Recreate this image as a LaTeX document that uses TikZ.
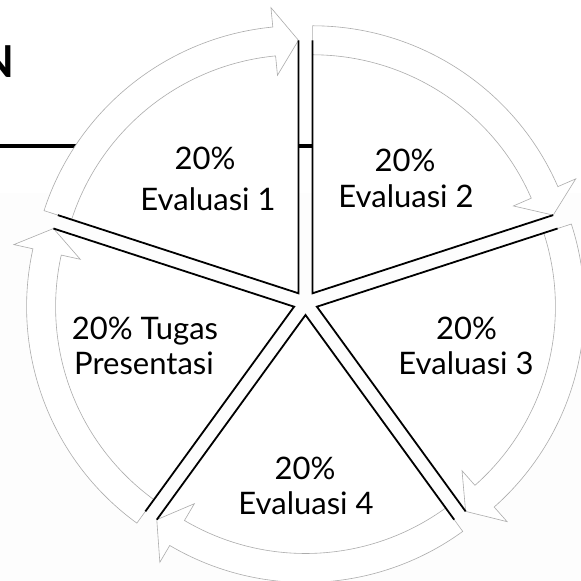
\documentclass[tikz,border=0pt]{standalone}
\usepackage{fontspec}
\setmainfont{Lato}
\begin{document}
\begin{tikzpicture}[x=1pt,y=1pt,
  ring/.style={draw=gray!65, line width=0.6pt, fill=white},
  edge/.style={draw=black, line width=1.8pt, line join=miter},
  lbl/.style={font=\fontsize{31}{31}\selectfont, anchor=base, inner sep=0pt}]
\useasboundingbox (0,0) rectangle (581,581);
\clip (0,0) rectangle (581,581);
\fill[white] (0,0) rectangle (581,581);
\fill[black!0.6] (0,0) rectangle (581,388);
\node[font=\fontsize{44}{44}\selectfont\bfseries, anchor=base east, inner sep=0pt] (title) at (15,503) {N};
\draw[line width=3.3pt] (0,435) -- (420,435);
\coordinate (C) at (305.5,278);
% slice fills
\foreach \t in {126,54,-18,-90,198}{
  \fill[white, shift={(C)}, shift={(\t:12)}] (0,0) -- (\t-36:253) arc[start angle=\t-36, end angle=\t+36, radius=253] -- cycle;
}
% ring arrows
\foreach \t in {126,54,-18,-90,198}{
  \pgfmathsetmacro\a{\t+36}
  \pgfmathsetmacro\b{\t-36}
  \pgfmathsetmacro\h{\t-36+5.5}
  \draw[ring, shift={(C)}, shift={(\t:12)}] (\a:267.5) arc[start angle=\a, end angle=\h, radius=267.5] -- (\h:287) -- (\b:253) -- (\h:219) -- (\h:238.5) arc[start angle=\h, end angle=\a, radius=238.5] -- cycle;
}
% slice edges
\foreach \t in {126,54,-18,-90,198}{
  \draw[edge, shift={(C)}, shift={(\t:12)}] (\t+36:253) -- (0,0) -- (\t-36:253);
}
\node[lbl] (p1) at (205,411) {20\%};
\node[lbl] (e1) at (208,370) {Evaluasi 1};
\node[lbl] (p2) at (405,409) {20\%};
\node[lbl] (e2) at (406,373) {Evaluasi 2};
\node[lbl] (p3) at (466.5,241) {20\%};
\node[lbl] (e3) at (466,206) {Evaluasi 3};
\node[lbl] (p4) at (305,101) {20\%};
\node[lbl] (e4) at (306,66) {Evaluasi 4};
\node[lbl] (p5) at (145,241) {20\% Tugas};
\node[lbl] (e5) at (144,206) {Presentasi};
\end{tikzpicture}
\end{document}
